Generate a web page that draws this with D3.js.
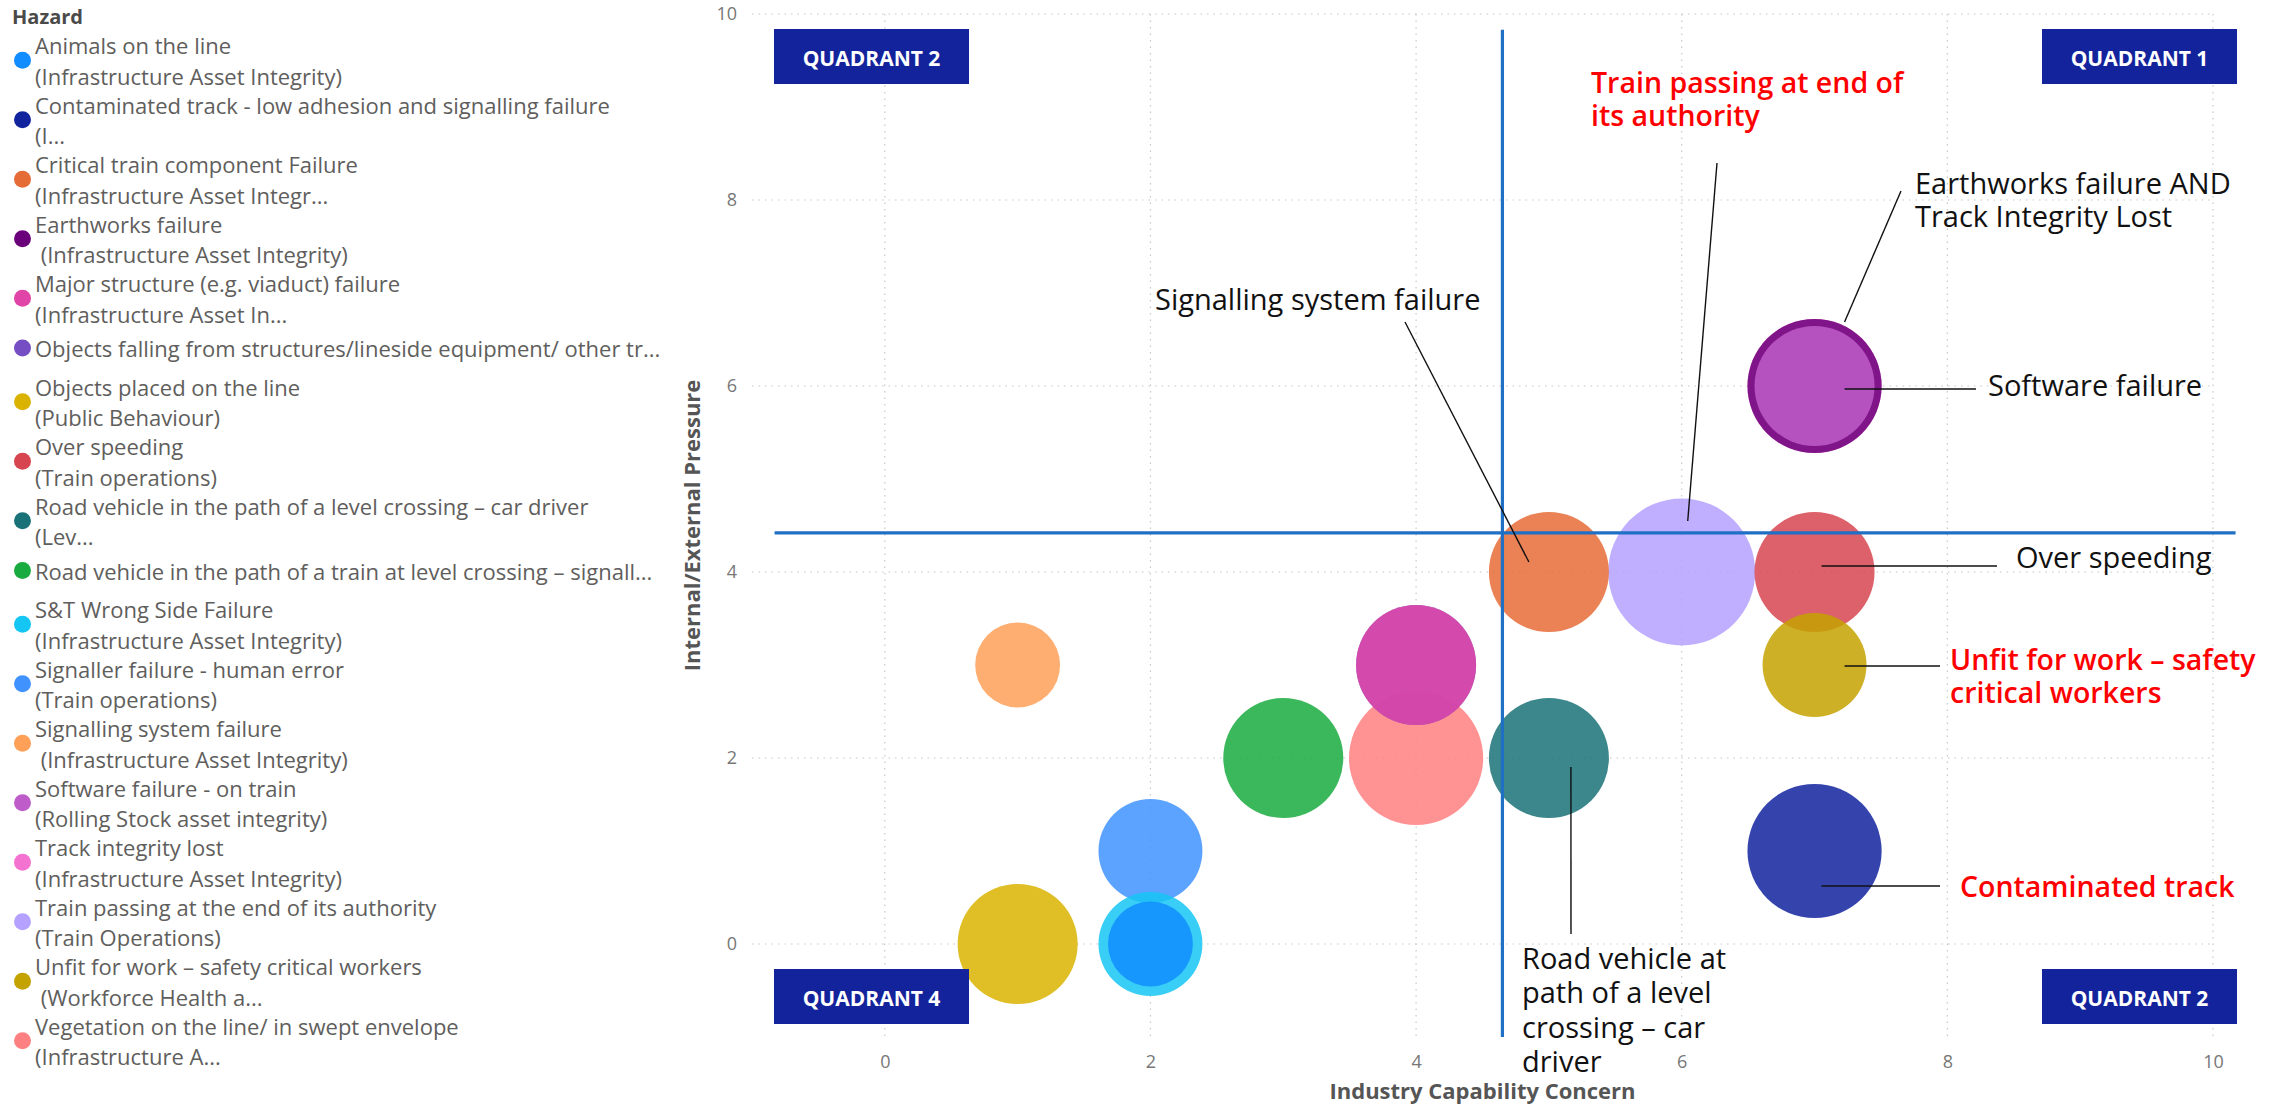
<!DOCTYPE html>
<html>
<head>
<meta charset="utf-8">
<script src="https://cdn.jsdelivr.net/npm/d3@7"></script>
<style>
  html, body { margin: 0; padding: 0; background: #fff; }
  svg { display: block; }
  text { font-family: "Open Sans", "Noto Sans", sans-serif; white-space: pre; }
</style>
</head>
<body>
<svg id="chart" width="2287" height="1104"></svg>
<script>
// Hazard register: names, groups, scores
const hazardNames = [
  "Animals on the line",
  "Contaminated track - low adhesion and signalling failure",
  "Critical train component Failure",
  "Earthworks failure",
  "Major structure (e.g. viaduct) failure",
  "Objects falling from structures/lineside equipment/ other tr...",
  "Objects placed on the line",
  "Over speeding",
  "Road vehicle in the path of a level crossing – car driver",
  "Road vehicle in the path of a train at level crossing – signall...",
  "S&T Wrong Side Failure",
  "Signaller failure - human error",
  "Signalling system failure",
  "Software failure - on train",
  "Track integrity lost",
  "Train passing at the end of its authority",
  "Unfit for work – safety critical workers",
  "Vegetation on the line/ in swept envelope"
];
const hazardGroups = [
  "(Infrastructure Asset Integrity)",
  "(I...",
  "(Infrastructure Asset Integr...",
  " (Infrastructure Asset Integrity)",
  "(Infrastructure Asset In...",
  "",
  "(Public Behaviour)",
  "(Train operations)",
  "(Lev...",
  "",
  "(Infrastructure Asset Integrity)",
  "(Train operations)",
  " (Infrastructure Asset Integrity)",
  "(Rolling Stock asset integrity)",
  "(Infrastructure Asset Integrity)",
  "(Train Operations)",
  " (Workforce Health a...",
  "(Infrastructure A..."
];
// Industry Capability Concern (x)
const capability = [2, 7, 5, 7, 4, 4, 1, 7, 5, 3, 2, 2, 1, 7, 7, 6, 7, 4];
// Internal/External Pressure (y)
const pressure   = [0, 1, 4, 6, 3, 3, 0, 4, 2, 2, 0, 1, 3, 6, 6, 4, 3, 2];
// Bubble size measure
const severity   = [4, 10, 8, 10, 8, 8, 8, 8, 8, 8, 6, 6, 4, 8, 10, 12, 6, 10];
const colours = [
  "#118DFF", "#12239E", "#E66C37", "#6B007B", "#E044A7", "#744EC2",
  "#D9B300", "#D64550", "#197278", "#1AAB40", "#15C6F4", "#4092FF",
  "#FFA058", "#BE5DC9", "#F472D0", "#B5A1FF", "#C4A200", "#FF8080"
];
const xTicks = [0, 2, 4, 6, 8, 10];
const yTicks = [0, 2, 4, 6, 8, 10];
// Quadrant divider values
const capabilityThreshold = 4.65;
const pressureThreshold = 4.42;
const quadrantLabels = ["QUADRANT 2", "QUADRANT 1", "QUADRANT 4", "QUADRANT 2"];

const svg = d3.select("#chart");

// Plot area
const plot = { left: 752, right: 2213, top: 14, bottom: 1037 };
const x = d3.scaleLinear().domain([-1, 10]).range([plot.left, plot.right]);
const y = d3.scaleLinear().domain([-1, 10]).range([plot.bottom, plot.top]);
const r = d3.scaleSqrt().domain([0, 12]).range([0, 73.5]);

// Grid
const grid = svg.append("g").attr("stroke", "#c8c8c8").attr("stroke-width", 1.2)
  .attr("stroke-dasharray", "1.5,5");
grid.selectAll(".gy").data(yTicks).join("line")
  .attr("x1", plot.left).attr("x2", plot.right)
  .attr("y1", d => y(d)).attr("y2", d => y(d));
grid.selectAll(".gx").data(xTicks).join("line")
  .attr("x1", d => x(d)).attr("x2", d => x(d))
  .attr("y1", plot.top).attr("y2", plot.bottom);

// Axes (labels only, no domain lines)
const xAxis = svg.append("g").attr("transform", `translate(0,${plot.bottom + 4})`)
  .call(d3.axisBottom(x).tickValues(xTicks).tickSize(0).tickPadding(14));
const yAxis = svg.append("g").attr("transform", `translate(${plot.left - 15},0)`)
  .call(d3.axisLeft(y).tickValues(yTicks).tickSize(0).tickPadding(0));
[xAxis, yAxis].forEach(a => {
  a.select(".domain").remove();
  a.selectAll("text").attr("fill", "#777").style("font-size", "18px")
    .style("font-family", "'Open Sans', sans-serif");
});

svg.append("text").attr("x", (plot.left + plot.right) / 2).attr("y", 1090)
  .attr("text-anchor", "middle").attr("dominant-baseline", "central")
  .attr("fill", "#555").style("font-size", "22px").style("font-weight", 700)
  .text("Industry Capability Concern");
svg.append("text").attr("transform", `translate(691,${(plot.top + plot.bottom) / 2}) rotate(-90)`)
  .attr("text-anchor", "middle").attr("dominant-baseline", "central")
  .attr("fill", "#555").style("font-size", "22px").style("font-weight", 700)
  .text("Internal/External Pressure");

// Bubbles: larger drawn first, later legend entries underneath on ties
const points = hazardNames.map((name, i) => ({
  name, x: capability[i], y: pressure[i], size: severity[i], colour: colours[i], i
})).filter(d => d.x != null);
points.sort((a, b) => d3.descending(a.size, b.size) || d3.descending(a.i, b.i));
svg.append("g").selectAll("circle").data(points).join("circle")
  .attr("cx", d => x(d.x)).attr("cy", d => y(d.y)).attr("r", d => r(d.size))
  .attr("fill", d => d.colour).attr("fill-opacity", 0.85);

// Quadrant dividers
const divider = svg.append("g").attr("stroke", "#1f6fc4").attr("stroke-width", 3.2);
divider.append("line")
  .attr("x1", x(capabilityThreshold)).attr("x2", x(capabilityThreshold))
  .attr("y1", y(9.83)).attr("y2", y(-1));
divider.append("line")
  .attr("x1", x(-0.83)).attr("x2", x(10.17))
  .attr("y1", y(pressureThreshold)).attr("y2", y(pressureThreshold));

// Callouts
const callouts = [
  { hazard: 2,  lines: ["Signalling system failure"], red: false, tx: 1155, ty: 298, start: [1405, 322], dx: -20, dy: -10 },
  { hazard: 15, lines: ["Train passing at end of", "its authority"], red: true, tx: 1591, ty: 82, start: [1717, 163], dx: 6, dy: -51 },
  { hazard: 3,  lines: ["Earthworks failure AND", "Track Integrity Lost"], red: false, tx: 1915, ty: 182, start: [1901, 191], dx: 30, dy: -64 },
  { hazard: 13, lines: ["Software failure"], red: false, tx: 1988, ty: 384, start: [1976, 389], dx: 30, dy: 3 },
  { hazard: 7,  lines: ["Over speeding"], red: false, tx: 2016, ty: 556, start: [1997, 566], dx: 7, dy: -6 },
  { hazard: 16, lines: ["Unfit for work – safety", "critical workers"], red: true, tx: 1950, ty: 659, start: [1940, 666], dx: 30, dy: 1 },
  { hazard: 1,  lines: ["Contaminated track"], red: true, tx: 1960, ty: 886, start: [1940, 886], dx: 7, dy: 0, flat: true },
  { hazard: 8,  lines: ["Road vehicle at", "path of a level", "crossing – car", "driver"], red: false, tx: 1522, ty: 957, start: [1571, 934], dx: 22, dy: 9, lh: 34.5 }
];
const cg = svg.append("g");
callouts.forEach(c => {
  const px = x(capability[c.hazard]) + c.dx;
  const py = y(pressure[c.hazard]) + c.dy;
  cg.append("line").attr("x1", c.start[0]).attr("y1", c.start[1])
    .attr("x2", px).attr("y2", c.flat ? c.start[1] : py)
    .attr("stroke", "#111").attr("stroke-width", 1.4);
  const t = cg.append("text").attr("fill", c.red ? "#ff0000" : "#111")
    .style("font-size", c.red ? "28.5px" : "29px")
    .style("font-weight", c.red ? 600 : 400);
  c.lines.forEach((ln, k) => {
    t.append("tspan").attr("x", c.tx).attr("y", c.ty + k * (c.lh || 33))
      .attr("dominant-baseline", "central").text(ln);
  });
});

// Quadrant tags
const tagW = 195, tagH = 55;
const tagPos = [
  [plot.left + 22, 29], [plot.right + 24 - tagW, 29],
  [plot.left + 22, 969], [plot.right + 24 - tagW, 969]
];
const tags = svg.append("g").selectAll("g").data(quadrantLabels).join("g")
  .attr("transform", (d, i) => `translate(${tagPos[i][0]},${tagPos[i][1]})`);
tags.append("rect").attr("width", tagW).attr("height", tagH).attr("fill", "#13239c");
tags.append("text").attr("x", tagW / 2).attr("y", tagH / 2 + 1)
  .attr("text-anchor", "middle").attr("dominant-baseline", "central")
  .attr("fill", "#fff").style("font-size", "21px").style("font-weight", 700)
  .text(d => d);

// Legend
const legend = svg.append("g");
legend.append("text").attr("x", 12).attr("y", 16).attr("dominant-baseline", "central")
  .attr("fill", "#4a4a4a").style("font-size", "20px").style("font-weight", 700).text("Hazard");
let cursor = 45;
hazardNames.forEach((name, i) => {
  const two = hazardGroups[i] !== "";
  const ty = two ? cursor : cursor + 5.5;
  const dotY = two ? cursor + 15.3 : ty;
  legend.append("circle").attr("cx", 22.5).attr("cy", dotY).attr("r", 8.5).attr("fill", colours[i]);
  const t = legend.append("text").attr("fill", "#605E5C").style("font-size", "22px");
  t.append("tspan").attr("x", 35).attr("y", ty).attr("dominant-baseline", "central").text(name);
  if (two) t.append("tspan").attr("x", 35).attr("y", ty + 30.5).attr("dominant-baseline", "central").text(hazardGroups[i]);
  cursor += two ? 59.5 : 44;
});
</script>
</body>
</html>
